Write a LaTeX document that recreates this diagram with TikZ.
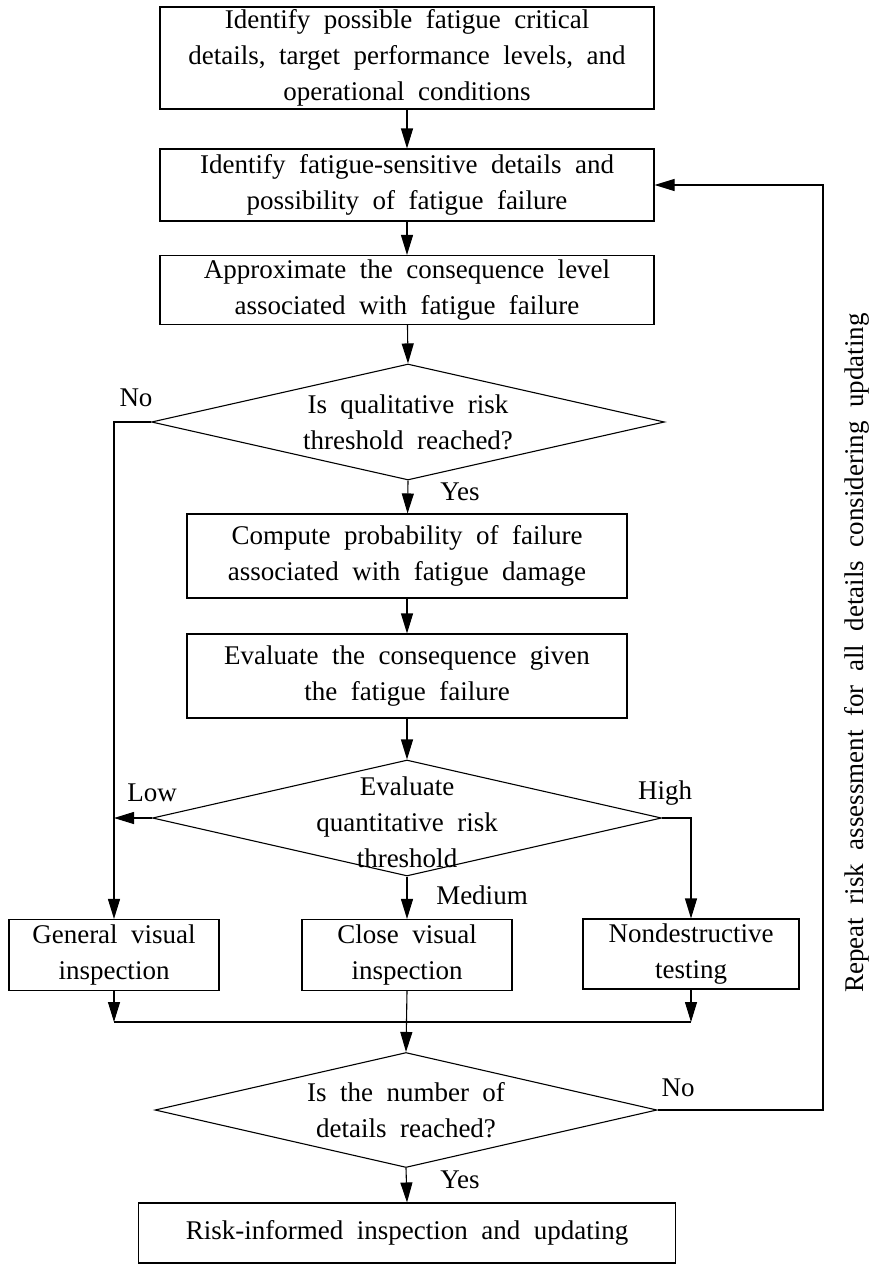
\documentclass[tikz,border=0pt]{standalone}
\usepackage{fontspec}
\setmainfont{Liberation Serif}[WordSpace=2]
\usetikzlibrary{arrows.meta,shapes.geometric}

\begin{document}
\begin{tikzpicture}[x=1pt,y=-1pt,>={Triangle[length=20pt,width=12pt]},
  line width=1.1pt,font=\fontsize{27}{36}\selectfont,
  bx/.style={draw,align=center,inner sep=2pt},
  dia/.style={draw,diamond,inner sep=0pt},
  txt/.style={align=center,inner sep=0pt},
  lb/.style={inner sep=0pt}]
  \useasboundingbox (0,0) rectangle (875,1264);
  % main column
  \node[bx,minimum width=494pt,minimum height=102pt] (b1) at (407,58)
    {Identify possible fatigue critical\\details, target performance levels, and\\operational conditions};
  \node[bx,minimum width=494pt,minimum height=72pt] (b2) at (407,185)
    {Identify fatigue-sensitive details and\\possibility of fatigue failure};
  \node[bx,minimum width=494pt,minimum height=69pt] (b3) at (407,290)
    {Approximate the consequence level\\associated with fatigue failure};
  \node[dia,minimum width=513pt,minimum height=116pt] (q1) at (408,422) {};
  \node[txt] (q1t) at (q1) {Is qualitative risk\\threshold reached?};
  \node[bx,minimum width=440pt,minimum height=84pt] (b4) at (407,556)
    {Compute probability of failure\\associated with fatigue damage};
  \node[bx,minimum width=440pt,minimum height=84pt] (b5) at (407,676)
    {Evaluate the consequence given\\the fatigue failure};
  \node[dia,minimum width=509pt,minimum height=116pt] (q2) at (407,818) {};
  \node[txt] (q2t) at (407,822) {Evaluate\\quantitative risk\\threshold};
  % inspection types
  \node[bx,minimum width=210pt,minimum height=71pt] (i1) at (114,955) {General visual\\inspection};
  \node[bx,minimum width=210pt,minimum height=71pt] (i2) at (407,955) {Close visual\\inspection};
  \node[bx,minimum width=216pt,minimum height=70pt] (i3) at (691,954) {Nondestructive\\testing};
  \node[dia,minimum width=502pt,minimum height=115pt] (q3) at (406,1110) {};
  \node[txt] (q3t) at (q3) {Is the number of\\details reached?};
  \node[bx,minimum width=537pt,minimum height=60pt] (b6) at (407,1233)
    {Risk-informed inspection and updating};
  \coordinate (jl) at (114,1022);
  \coordinate (jr) at (691,1022);
  \coordinate (fbk) at (823,650);
  % connectors
  \draw[->] (b1) -- (b2);
  \draw[->] (b2) -- (b3);
  \draw[->] (b3) -- (q1.north);
  \draw[->] (q1.south) -- (b4);
  \draw[->] (b4) -- (b5);
  \draw[->] (b5) -- (q2.north);
  \draw[->] (q1.west) -| (i1.north);
  \draw[->] (q2.west) -- (q2.west -| i1.north);
  \draw[->] (q2.east) -| (i3.north);
  \draw[->] (q2.south) -- (i2.north);
  \draw[->] (i1.south) -- (jl);
  \draw[->] (i3.south) -- (jr);
  \draw (jl) -- (jr);
  \draw[->] (i2.south) -- (q3.north);
  \draw[->] (q3.south) -- (b6.north);
  \draw[->] (q3.east) -| (fbk) |- (b2.east);
  % branch labels
  \node[lb] (n1) at (136,398) {No};
  \node[lb] (y1) at (460,492) {Yes};
  \node[lb] (lo) at (152,793) {Low};
  \node[lb] (hi) at (665,793) {High};
  \node[lb] (md) at (482,895) {Medium};
  \node[lb] (n2) at (678,1088) {No};
  \node[lb] (y2) at (460,1180) {Yes};
  \node[lb,rotate=90] (rep) at (857,653) {Repeat risk assessment for all details considering updating};
\end{tikzpicture}
\end{document}
